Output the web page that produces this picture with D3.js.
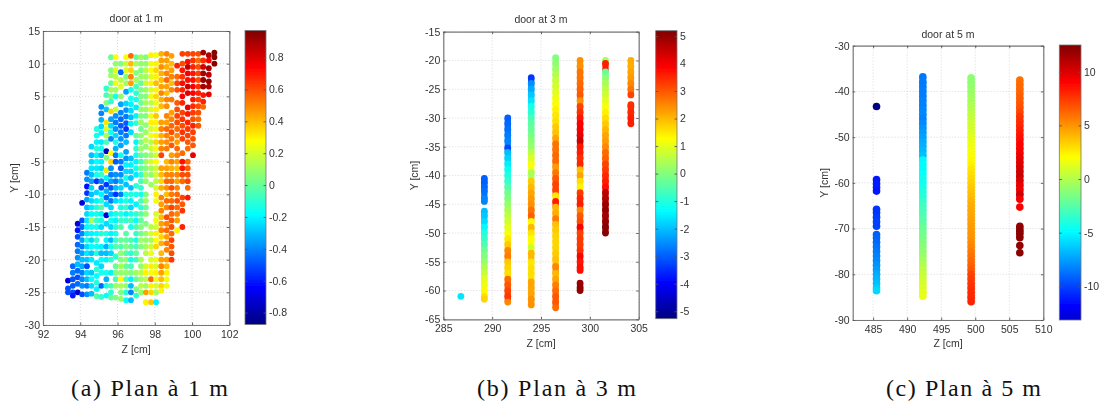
<!DOCTYPE html>
<html><head><meta charset="utf-8">
<script src="https://cdn.jsdelivr.net/npm/d3@7"></script>
<style>
html,body{margin:0;padding:0;background:#fff;overflow:hidden}
svg{display:block}
text{font-family:"Liberation Sans",Arial,sans-serif;fill:#333}
.cap{font-family:"Liberation Serif",serif;fill:#111;font-size:24px}
</style></head><body>
<svg id="chart" width="1102" height="402"></svg>
<script>
// Panel (a): door at 1 m
const aZ=[93.34,93.6,93.86,94.1,94.36,94.6,94.88,95.13,95.4,95.65,95.9,96.18,96.46,96.72,97,97.26,97.52,97.8,98.07,98.35,98.64,98.9,99.2,99.48,99.77,100.05,100.34,100.6,100.9,101.2];
const aY=[
[-23.2,-24.4,-25],
[-21,-22,-23,-24,-25,-25.5],
[-14.5,-15.5,-16.5,-17.7,-18.7,-19.7,-20.7,-21.7,-22.7,-23.7,-25],
[-11.3,-14,-15,-16,-17,-18,-19,-20,-21,-22,-23,-24,-25.3],
[-6.7,-7.7,-8.8,-9.8,-10.8,-12,-13,-14,-15,-16,-17,-18,-19,-20,-21,-22,-23,-24,-25.3],
[-2.7,-4,-5,-6,-7,-8,-9,-10,-11,-12,-13,-14,-15,-16,-17,-18,-19,-20,-22,-23,-24,-25.2],
[0,-1,-2,-3,-4,-5,-6,-7,-8,-9.7,-11,-12,-13,-14,-15,-16,-17,-18,-19,-20.5,-21.5,-22.5,-23.5,-24.5,-25.6],
[3.4,2.4,1.4,.4,-.6,-2,-3,-4,-5,-6,-7,-8,-9,-10,-11,-12,-13,-14,-15,-16,-18,-19,-20,-21,-22,-24,-25.7],
[6.2,5.2,4,3,1,0,-1,-2,-3.4,-4.4,-6.3,-7.5,-8.5,-9.5,-10.5,-11.5,-13.2,-14.5,-16,-17,-18,-19,-20,-22,-23,-24,-25.5],
[11,9,8.2,7,6,5,4.2,2.7,1.5,.5,-.5,-1.5,-3.7,-5,-6,-7,-8,-9,-10,-11,-12,-13,-14,-15,-16,-17,-18,-19,-20,-22,-24,-25,-25.8],
[11,10,9,8,7,6,5,3,2,1,0,-1,-2,-3,-4,-5,-7,-8,-9,-10,-11,-13,-14,-15,-16,-17,-18,-19.5,-21,-22,-23,-24,-25.8],
[10,8.7,7.5,6.5,5,3.8,2.5,1.5,.5,-.5,-1.5,-2.5,-4,-5,-6,-7,-8,-9,-10,-11,-12,-13,-14,-15,-17,-18,-19,-20,-21,-22,-23,-24,-25,-26],
[11,10,9,8,7,5.7,3.9,2.9,1.9,.9,0,-1,-2,-3.5,-4.5,-5.5,-6.5,-7.5,-8.5,-10,-11,-12,-13,-14,-16,-17,-18,-19,-20,-21,-22,-23,-24,-25,-26.2],
[11.2,10,9,8,7,6,4.7,3.8,2.8,1.8,.8,-.5,-4.5,-5.5,-6.5,-7.5,-9,-10,-11,-12,-13,-14,-15,-17,-18,-19,-20,-21,-22,-23,-24,-25,-26.2],
[11,10,8.6,7.5,6.5,5.5,4.5,3.3,2,.9,-1,-2,-3,-4,-5,-6,-7,-8.7,-10,-11.5,-13,-14,-15,-16,-17,-18,-19,-20,-22,-23,-24.5,-25.5],
[11,10,9,8,7,6,5,4,3,2,1,0,-1,-2,-3,-4,-5,-6,-7,-8,-9,-10,-11,-12,-13,-14,-15,-16,-17,-18,-20,-21,-22,-23,-24,-25],
[11,10,9,8,7,6,5,4,3,2,.6,-.5,-1.7,-2.7,-4,-5,-6,-7,-8,-10,-11,-12,-13,-14.5,-16,-17,-18,-19,-21,-22,-23,-24,-25,-26.5],
[11.3,10,9,8,7,6,5,4,3,2,1,0,-1,-2,-3,-4,-5,-6,-7,-8.5,-15,-16,-17,-18,-19,-20,-21,-22,-23,-24,-25,-26.5],
[11.3,10,9,8,7,6,5,4,3,2,1,0,-1,-2,-3,-4,-5,-6,-7,-8,-9,-10,-11,-13,-14,-15,-16,-17,-18,-20,-21,-22,-23,-24,-25,-26.5],
[11.5,10.5,9.5,8.5,7.5,6.5,5.5,4.5,3.5,1,0,-1,-2,-3,-4,-6,-7,-8,-9,-10.5,-11.5,-12.5,-13.5,-14.5,-15.5,-16.5,-17.5,-19,-20,-21,-22,-23,-24,-24.7],
[11.5,10.5,9.5,8.5,7.5,6.5,5.5,4.5,3.5,2,1,0,-1,-2,-3,-5,-6,-7,-8,-9,-10,-11,-12,-13.5,-14.5,-15.5,-16.5,-17.5,-18.5,-20,-21,-22,-23,-24],
[11.2,10,9,8,7,6,4.5,2.5,1.5,.5,-.5,-1.5,-2.5,-4,-5,-6,-7,-8,-9,-10,-11,-12,-13,-14,-15,-16,-17,-18,-19,-20],
[9.7,8,7,6,4,3,2,1,0,-1,-2,-3,-4,-5,-6,-7,-8,-9,-10,-11,-12,-13,-14,-15.5],
[11.5,10,9,8,7,6,5,4,2.5,1.5,.5,-.5,-1.5,-3.7,-5,-6,-7,-8,-10.5,-11.5,-12.5,-15],
[11.5,10.3,9.5,8.5,7.5,6.5,5.5,3.3,2.3,1,0,-1,-2,-3,-5,-6,-7,-8,-9,-10.5],
[11.5,10.5,9.5,8.5,7.5,6.5,5.5,4.5,3.5,2.5,1.5,.5,-.5,-1.5,-2.5,-4],
[11.5,10.5,9.5,8.5,7.5,6.5,5.5,4.5,3.5,2.5,1.5,.5],
[11.7,10.5,9.5,8.5,7.5,6.5,5.2,4.2,3.4],
[11.3,10.5,9.3,8.3,7.3,6.5,5.3],
[11.7,11,10]
];
const aV=[
[-.72,-.5,-.5],
[-.45,-.42,-.5,-.48,-.5,-.6],
[-.7,-.6,-.5,-.45,-.42,-.38,-.3,-.45,-.5,-.45,-.75],
[-.72,-.5,-.45,-.4,-.35,-.42,-.35,-.3,-.33,-.42,-.4,-.38,-.5],
[-.42,-.38,-.62,-.55,-.35,-.3,-.25,-.22,-.18,-.22,-.12,-.25,-.22,-.28,-.5,-.25,-.3,-.42,-.38],
[-.25,-.3,-.25,-.22,-.3,-.35,-.25,-.3,-.25,-.22,-.18,.12,-.15,-.2,-.25,-.18,-.28,-.22,-.28,-.18,-.25,-.3],
[-.12,-.15,-.2,-.12,-.2,-.18,-.22,-.15,-.55,-.25,-.2,-.12,-.15,-.08,-.15,-.18,-.1,-.18,-.12,-.22,-.1,-.18,-.12,-.2,-.03],
[-.38,-.4,-.32,-.25,-.2,-.22,-.15,-.3,-.2,-.25,-.08,-.38,-.5,-.2,-.12,-.03,-.2,-.15,-.25,-.12,-.2,-.3,-.18,-.25,-.15,-.45,-.1],
[-.1,-.05,.05,-.28,.32,.22,.12,-.05,-.75,.05,.32,-.2,-.55,-.32,-.45,-.25,-.72,-.25,-.12,-.2,-.32,-.3,-.2,-.15,-.32,-.15,-.18],
[.0,.05,.1,.0,.1,.05,-.1,.35,-.35,-.25,-.15,-.4,.28,.35,-.38,-.42,-.35,-.48,-.38,-.42,-.25,-.2,-.15,-.25,-.2,-.3,-.15,-.25,-.1,-.2,-.05,-.1,.0],
[.28,.08,.22,.15,.25,.1,-.15,.18,-.38,-.42,-.38,-.25,-.15,-.32,-.42,-.48,-.38,-.42,-.3,-.55,-.25,-.15,-.2,-.12,-.15,-.08,-.03,-.1,.0,.05,-.05,.1,.05],
[.05,-.45,.15,.22,.08,-.35,-.4,-.45,-.48,-.42,-.38,-.35,-.15,-.42,-.48,-.38,-.3,-.25,-.42,-.2,-.15,-.12,-.08,-.03,.0,-.05,.08,.05,.12,.08,.28,.12,.05,.08],
[.28,.18,.22,.05,.1,-.35,-.25,-.38,-.42,-.48,-.55,-.42,-.3,-.35,-.38,-.2,-.25,-.15,-.3,-.15,-.12,-.08,-.2,-.1,-.03,.0,.05,-.03,.08,.0,.08,-.03,.08,-.12,-.18],
[.55,.4,.35,.5,.45,-.15,-.15,-.2,-.25,-.3,-.2,-.25,-.3,-.2,-.25,-.28,-.3,-.12,-.2,-.25,-.15,-.05,-.15,-.05,.0,-.1,-.15,-.05,.05,-.2,-.3,-.4,-.3],
[.0,.12,.05,.1,-.05,-.1,-.15,-.22,-.2,-.1,.0,-.2,-.1,-.15,-.2,-.15,-.22,-.1,-.15,-.2,-.1,-.18,-.05,-.1,-.15,-.05,.0,-.08,.1,.0,.05,-.1],
[.1,.08,.05,.1,.0,.05,.05,.02,.08,.05,.1,.02,.08,.05,.1,.0,-.05,.0,-.1,-.05,-.1,-.15,-.05,-.1,-.02,.0,.05,.02,.1,.05,.12,.08,.15,.1,.15,.08],
[.05,.08,.15,.1,.18,.1,.05,.12,.1,.05,.08,.1,.15,.08,.05,.1,.05,.12,.08,.05,.1,.02,.08,.05,.1,.08,.12,.15,.2,.3,.15,.1,.45,.3],
[.3,.25,.28,.22,.3,.2,.25,.15,.2,.25,.3,.2,.25,.15,.18,.1,.2,.12,.08,.1,.15,.2,.12,.18,.25,.2,.3,.25,.55,.3,.35,.38],
[.25,.3,.35,.3,.4,.3,.35,.25,.3,.38,.3,.25,.3,.35,.25,.2,.28,.18,.2,.15,.2,.3,.25,.2,.25,.2,.3,.28,.35,.25,.2,.3,.25,.2,.1,-.2],
[.42,.45,.48,.42,.4,.45,.5,.42,.4,.45,.5,.42,.45,.5,.62,.45,.4,.35,.42,.5,.45,.5,.4,.45,.5,.35,.42,.4,.45,.5,.45,.4,.35,.3],
[.5,.45,.42,.5,.55,.45,.4,.5,.48,.5,.45,.55,.5,.48,.52,.4,.45,.5,.55,.48,.4,.55,.5,.6,.5,.55,.45,.52,.5,.45,.4,.3,.25,.25],
[.45,.4,.45,.5,.4,.5,.52,.45,.5,.55,.6,.52,.58,.45,.5,.42,.5,.55,.6,.52,.55,.62,.55,.58,.6,.55,.62,.58,.6,.65],
[.68,.55,.62,.6,.58,.6,.62,.6,.55,.5,.45,.55,.5,.45,.4,.5,.45,.5,.55,.6,.55,.5,.45,.3],
[.62,.6,.7,.65,.72,.68,.75,.68,.62,.65,.6,.65,.62,.55,.72,.7,.6,.55,.62,.58,.65,.68],
[.62,.72,.85,.76,.72,.84,.8,.78,.7,.68,.65,.62,.58,.55,.55,.58,.6,.62,.55,.7],
[.62,.65,.68,.7,.72,.75,.74,.7,.66,.64,.6,.68,.63,.6,.58,.78],
[.6,.55,.6,.62,.6,.66,.68,.63,.6,.6,.55,.58],
[.92,.66,.82,.9,.93,.92,.7,.68,.55],
[.88,.75,.9,.86,.93,.88,.78],
[.96,.96,.95]
];
// Panel (b): door at 3 m
const bZ=[286.8,289.2,291.6,294,296.5,299,301.6,304.2];
const bY=[
[-61],
[-40.5,-41.2,-42,-42.7,-44,-44.5,-46.2,-47,-48,-49,-50,-51,-52,-53,-54,-55,-56,-57,-58,-59,-60,-61,-61.5],
[-30,-31,-32,-33,-34,-35.2,-36,-37,-38,-39,-40,-41,-42,-43,-44,-45,-46,-47,-48,-49,-50,-51,-52,-53,-54,-55,-56,-57,-58,-59,-60,-61,-62],
[-23,-24,-25,-26,-27,-28,-29,-30,-31,-32,-33,-34,-35,-36,-37,-38,-39.5,-41,-42,-43,-44,-45,-46,-47,-48,-49,-50,-51,-52.5,-53.5,-55,-56,-57,-58.5,-59.5,-60.5,-61.5,-62.5],
[-19.5,-20.5,-21.5,-22.5,-23.5,-24.5,-25.5,-26.5,-27.5,-28.5,-29.5,-30.5,-31.5,-32.5,-33.5,-34.5,-35.5,-36.5,-37.5,-38.5,-39.5,-40.5,-41.5,-42.5,-43.5,-44.5,-45.5,-46.5,-47.5,-48.5,-49.5,-50.5,-51.5,-52.5,-53.5,-54.5,-55.8,-57,-58,-59,-60,-61,-62,-63],
[-20,-21,-22,-23,-24,-25,-26,-27,-28,-29,-30,-31,-32,-33,-34,-35,-36,-37,-38,-39,-40,-41,-42,-43,-44,-45,-46,-47,-48,-49,-50,-51,-52,-53,-54,-55,-56,-56.5,-58.7,-59.5,-60],
[-20,-20.5,-22,-23,-24,-25,-26,-27,-28,-29,-30,-31,-32,-33,-34,-35,-36,-37,-38,-39,-40,-41,-42,-43,-44,-45,-46,-47,-48,-49,-50],
[-20,-21,-22,-23,-24,-25,-26,-27.7,-28,-29,-30,-31]
];
const bV=[
[-1.6],
[-3,-3,-2.9,-2.8,-2.6,-2.6,-2,-1.9,-1.7,-1.4,-1,-.8,-.5,-.2,0,.2,.5,.7,1,1.1,1.3,1.6,1.7],
[-3,-2.9,-2.8,-2.7,-2.6,-3.2,-2,-1.8,-1.5,-1.2,-1,-.8,-.5,-.2,0,.2,.4,.6,.8,1,1.2,1.5,1.8,2.5,2.6,1.8,1.7,1.6,2.8,3,3.2,3.3,2.5],
[-3.4,-2.5,-2.2,-1.9,-1.6,-1.1,-.9,-.6,-.4,-.3,-.1,.1,.2,.6,.9,1.2,.4,1.8,2,2.2,2.3,2.4,2.7,2.9,1.3,2,1.5,1.3,.8,2,1.5,1.6,1.6,2.2,2.2,2.2,2.4,2.4],
[0,.1,.3,.5,.7,.8,1,1.1,1.3,1.4,1.5,1.6,1.8,1.9,2.2,2.7,2.7,2.8,2.8,2.3,2.7,3,3.2,3.2,1.5,3.6,2,2.1,2.6,1.9,1.8,1.7,1.7,1.7,1.8,1.9,2.5,2,2.2,2.6,2.8,3,3,2.8],
[2.4,2.4,2.7,2.7,2.8,2.9,3,2.4,3.2,3.4,3.7,3.9,4,4.1,4.4,3.7,3.6,3.4,3.5,1.9,2.2,1.6,1.4,3.3,3.5,3.6,2.5,3,3.1,3.9,3.2,3.3,3.3,3.4,3.9,3.7,3.8,3.8,4.9,5,5],
[.3,3.6,-.3,.1,.4,.6,.8,1,1.2,1.4,1.6,1.8,2,2.2,2.3,2.5,2.8,2.9,3.2,3.3,3.5,3.6,3.8,4.6,4.7,4.9,5,4.8,5,5.1,5.1],
[2.1,2.1,2.2,2.3,2.5,2.7,3.2,3.4,3.4,3.5,3.6,3.6]
];
// Panel (c): door at 5 m
const cZ=[485.5,492.3,499.4,506.55];
const cY=[
[-43.3,-59.3,-60.2,-61,-61.8,-65.8,-66.5,-67.5,-68.5,-69.5,-71.3,-72,-73,-74,-75,-76,-77,-78,-79,-80,-81,-82,-83,-83.6],
[-36.8,-38,-39,-40,-41,-42,-43,-44,-45,-46,-47,-48,-49,-50,-51,-52,-53,-54,-55,-56,-57,-58,-59,-60,-61,-62,-63,-64,-65,-66,-67,-68,-69,-70,-71,-72,-73,-74,-75,-76,-77,-78,-79,-80,-81,-82,-83,-84,-84.8],
[-37,-38,-39,-40,-41,-42,-43,-44,-45,-46,-47,-48,-49,-50,-51,-52,-53,-54,-55,-56,-57,-58,-59,-60,-61,-62,-63,-64,-65,-66,-67,-68,-69,-70,-71,-72,-73,-74,-75,-76,-77,-78,-79,-80,-81,-82,-83,-84,-85,-86],
[-37.5,-38.5,-39.5,-40.5,-41.5,-42.5,-43.5,-44.5,-45.5,-46.5,-47.5,-48.5,-49.5,-50.5,-51.5,-52.5,-53.5,-54.5,-55.5,-56.5,-57.5,-58.5,-59.5,-60.5,-61.5,-62.5,-63.6,-65.3,-69.5,-70.3,-71,-72,-73.7,-75.3]
];
const cV=[
[-15.3,-11.2,-11,-11,-11.2,-10.4,-10.4,-10.2,-10,-10,-9.3,-9.1,-8.9,-8.7,-8.5,-8.3,-8.1,-7.8,-7.5,-7.2,-6.9,-6.6,-6.2,-5.9],
[-8.6,-8.5,-8.5,-8.4,-8.4,-8.3,-8.3,-8.2,-8.1,-8.3,-8,-7.8,-7.6,-7.4,-7.2,-7,-6.8,-6.6,-5,-4.9,-4.8,-4.7,-4.6,-4.5,-4.3,-4,-3.8,-3.5,-3.2,-3,-2.8,-2.6,-2.3,-2,-1.8,-1.6,-1.4,-1.2,-1,-.7,-.4,-.1,.2,.5,.7,.9,1.1,1.3,1.5],
[-1,-1,-.9,-.7,-.6,-.4,-.2,0,.3,.5,.7,.8,1,1.3,1.5,1.7,1.8,1.9,2.2,2.4,2.7,2.9,3.1,3.3,3.5,3.7,3.9,4.1,4.3,4.4,4.5,4.6,4.7,4.8,4.9,5,5.2,5.4,5.7,5.9,6.1,6.4,6.7,7.2,7.4,7.6,7.8,7.9,8,8.1],
[6,6.1,6.2,6.4,6.5,6.6,6.8,7.1,7.6,7.8,8,8.2,8.5,8.7,8.9,9.1,9.3,9.6,9.9,10,10.3,10.5,10,9.7,9.4,10.4,9.2,9,12,12.1,12.2,12.2,12,12.2]
];
// Axis ticks, titles, captions
const aXTicks=[92,94,96,98,100,102], aYTicks=[-30,-25,-20,-15,-10,-5,0,5,10,15], aCTicks=[-.8,-.6,-.4,-.2,0,.2,.4,.6,.8];
const bXTicks=[285,290,295,300,305], bYTicks=[-65,-60,-55,-50,-45,-40,-35,-30,-25,-20,-15], bCTicks=[-5,-4,-3,-2,-1,0,1,2,3,4,5];
const cXTicks=[485,490,495,500,505,510], cYTicks=[-90,-80,-70,-60,-50,-40,-30], cCTicks=[-10,-5,0,5,10];
const jetStops=[0,.125,.375,.625,.875,1], jetColors=["#000080","#0000ff","#00ffff","#ffff00","#ff0000","#800000"];

const jet=d3.scaleLinear().domain(jetStops).range(jetColors).interpolate(d3.interpolateRgb);
const svg=d3.select("#chart");
const defs=svg.append("defs");
defs.append("filter").attr("id","soft").attr("filterUnits","userSpaceOnUse")
  .attr("x",0).attr("y",0).attr("width",1102).attr("height",402)
  .append("feGaussianBlur").attr("stdDeviation",0.7);
const panels=[
 {id:"a",title:"door at 1 m",cap:"(a) Plan à 1 m",capX:[71,228],Z:aZ,Y:aY,V:aV,xd:[92,102],yd:[-30,15],cd:[-.875,.97],nd:[-.875,.97],xt:aXTicks,yt:aYTicks,ct:aCTicks,box:[43,229.3,31,325],cb:[245,266,30.5,324.5],r:2.9,link:false,titleY:22,xlY:353,ylX:18,cfmt:d=>String(+d.toFixed(1))},
 {id:"b",title:"door at 3 m",cap:"(b) Plan à 3 m",capX:[477,636],Z:bZ,Y:bY,V:bV,xd:[285,305],yd:[-65,-15],cd:[-5.27,5.19],nd:[-5.27,5.19],xt:bXTicks,yt:bYTicks,ct:bCTicks,box:[443.3,638.7,31.7,319.3],cb:[655.7,677,30.7,318.7],r:3.4,link:true,titleY:23,xlY:347,ylX:418,cfmt:String},
 {id:"c",title:"door at 5 m",cap:"(c) Plan à 5 m",capX:[886,1041],Z:cZ,Y:cY,V:cV,xd:[482,510],yd:[-90,-30],cd:[-13.14,12.49],nd:[-15.3,12.49],xt:cXTicks,yt:cYTicks,ct:cCTicks,box:[852.7,1043.3,45.7,320],cb:[1059.3,1081,45,320],r:3.8,link:true,titleY:38,xlY:347,ylX:828,cfmt:String}
];
const soft=svg.append("g").attr("filter","url(#soft)");
panels.forEach(p=>{
  const [x0,x1,y0,y1]=p.box, [cx0,cx1,cy0,cy1]=p.cb;
  const g=soft.append("g");
  const x=d3.scaleLinear().domain(p.xd).range([x0,x1]);
  const y=d3.scaleLinear().domain(p.yd).range([y1,y0]);
  const c=d3.scaleLinear().domain(p.cd).range([cy1,cy0]);
  const norm=d3.scaleLinear().domain(p.nd).range([0,1]).clamp(true);
  g.append("rect").attr("x",x0).attr("y",y0).attr("width",x1-x0).attr("height",y1-y0).attr("fill","#fff");
  // grid
  const grid=g.append("g").attr("stroke","#cfcfcf").attr("stroke-width",.8).attr("stroke-dasharray","1 2");
  grid.selectAll(".gx").data(p.xt).join("line").attr("x1",d=>x(d)).attr("x2",d=>x(d)).attr("y1",y0).attr("y2",y1);
  grid.selectAll(".gy").data(p.yt).join("line").attr("y1",d=>y(d)).attr("y2",d=>y(d)).attr("x1",x0).attr("x2",x1);
  // points
  const pts=[], links=[];
  p.Z.forEach((z,i)=>p.Y[i].forEach((yy,j)=>{
    pts.push({z,y:yy,v:p.V[i][j]});
    const ny=p.Y[i][j+1];
    if(p.link&&ny!==undefined&&Math.abs(ny-yy)<=1.55) links.push({z,y:yy,ny,v:p.V[i][j]});
  }));
  g.append("g").selectAll("line").data(links).join("line")
    .attr("x1",d=>x(d.z)).attr("x2",d=>x(d.z)).attr("y1",d=>y(d.y)).attr("y2",d=>y(d.ny))
    .attr("stroke",d=>jet(norm(d.v))).attr("stroke-width",p.r*1.85);
  g.append("g").selectAll("circle").data(pts).join("circle")
    .attr("cx",d=>x(d.z)).attr("cy",d=>y(d.y)).attr("r",p.r).attr("fill",d=>jet(norm(d.v)));
  // axes
  const style=s=>{s.select(".domain").attr("stroke","#777").attr("stroke-width",1.2);s.selectAll(".tick line").attr("stroke","#555").attr("stroke-width",.9);s.selectAll("text").attr("font-size",10.5).attr("fill","#222").attr("font-family","'Liberation Sans',Arial,sans-serif");};
  g.append("g").attr("transform",`translate(0,${y1})`).call(d3.axisBottom(x).tickValues(p.xt).tickSizeOuter(0).tickSizeInner(-2.5).tickPadding(5.5).tickFormat(String)).call(style);
  g.append("g").attr("transform",`translate(0,${y0})`).call(d3.axisTop(x).tickValues(p.xt).tickSizeOuter(0).tickSizeInner(-2.5).tickFormat("")).call(style);
  g.append("g").attr("transform",`translate(${x0},0)`).call(d3.axisLeft(y).tickValues(p.yt).tickSizeOuter(0).tickSizeInner(-2.5).tickPadding(3).tickFormat(String)).call(style);
  g.append("g").attr("transform",`translate(${x1},0)`).call(d3.axisRight(y).tickValues(p.yt).tickSizeOuter(0).tickSizeInner(-2.5).tickFormat("")).call(style);
  // colourbar
  const gid="jet-"+p.id;
  defs.append("linearGradient").attr("id",gid).attr("gradientUnits","userSpaceOnUse")
    .attr("x1",0).attr("x2",0).attr("y1",c(p.nd[0])).attr("y2",c(p.nd[1]))
    .selectAll("stop").data(jetStops).join("stop").attr("offset",d=>d).attr("stop-color",(d,i)=>jetColors[i]);
  g.append("rect").attr("x",cx0).attr("y",cy0).attr("width",cx1-cx0).attr("height",cy1-cy0).attr("fill",`url(#${gid})`).attr("stroke","#777").attr("stroke-width",.8);
  g.append("g").attr("transform",`translate(${cx1},0)`).call(d3.axisRight(c).tickValues(p.ct).tickSizeOuter(0).tickSizeInner(-2.5).tickPadding(3).tickFormat(p.cfmt)).call(style).select(".domain").remove();
  g.append("g").attr("transform",`translate(${cx0},0)`).call(d3.axisLeft(c).tickValues(p.ct).tickSizeOuter(0).tickSizeInner(-2.5).tickFormat("")).call(style).select(".domain").remove();
  // labels
  const mid=(x0+x1)/2;
  g.append("text").attr("x",mid).attr("y",p.titleY).attr("text-anchor","middle").attr("font-size",10.5).attr("fill","#222").text(p.title);
  g.append("text").attr("x",mid).attr("y",p.xlY).attr("text-anchor","middle").attr("font-size",10.5).attr("fill","#222").text("Z [cm]");
  g.append("text").attr("transform",`translate(${p.ylX},${(y0+y1)/2}) rotate(-90)`).attr("text-anchor","middle").attr("font-size",10.5).attr("fill","#222").text("Y [cm]");
  svg.append("text").attr("class","cap").attr("x",p.capX[0]).attr("y",396).attr("textLength",p.capX[1]-p.capX[0]).attr("lengthAdjust","spacing").text(p.cap);
});
</script>
</body></html>
